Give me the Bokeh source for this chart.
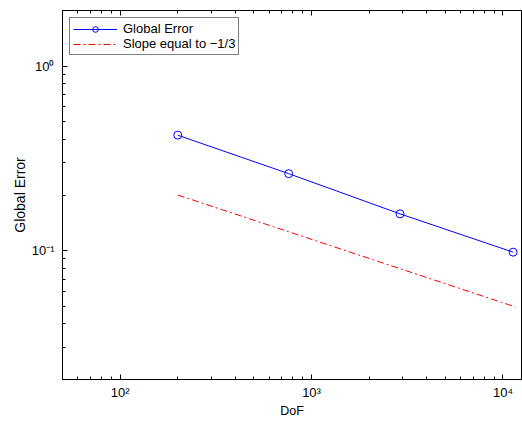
from bokeh.plotting import figure
from bokeh.models import Range1d, FixedTicker, LogAxis, Legend, LegendItem
from bokeh.embed import file_html
from bokeh.resources import INLINE

# data
dof = [200, 760, 2900, 11300]
global_error = [0.422, 0.261, 0.158, 0.098]
slope_x = [200, 11600]
slope_y = [0.2, 0.0495]

x_ticks = [100, 1000, 10000]
x_tick_labels = {100: "10²", 1000: "10³", 10000: "10⁴"}
x_minor = [m * d for d in [10, 100, 1000, 10000] for m in range(2, 10)]
y_ticks = [0.1, 1]
y_tick_labels = {0.1: "10⁻¹", 1: "10⁰"}
y_minor = [round(m * d, 4) for d in [0.01, 0.1, 1] for m in range(2, 10)]

FONT = "Liberation Sans"

p = figure(width=522, height=422, x_axis_type="log", y_axis_type="log",
           x_range=Range1d(50, 12500), y_range=Range1d(0.02, 2),
           output_backend="svg", toolbar_location=None,
           min_border_left=62, min_border_right=1, min_border_top=10, min_border_bottom=43)
p.background_fill_color = "white"
p.border_fill_color = "white"
p.outline_line_color = "black"
p.outline_line_width = 1
p.xgrid.visible = False
p.ygrid.visible = False


def style(ax, labels=True):
    ax.axis_line_color = "black"
    ax.major_tick_in = 5
    ax.major_tick_out = 0
    ax.minor_tick_in = 3
    ax.minor_tick_out = 0
    ax.major_tick_line_color = "black"
    ax.minor_tick_line_color = "black"
    ax.major_label_text_font = FONT
    ax.major_label_text_font_size = "13px" if labels else "0px"
    ax.major_label_text_color = "black"
    ax.axis_label_text_font = FONT
    ax.axis_label_text_font_size = "12.5px"
    ax.axis_label_text_font_style = "normal"
    ax.axis_label_text_color = "black"


xt = FixedTicker(ticks=x_ticks, minor_ticks=x_minor)
yt = FixedTicker(ticks=y_ticks, minor_ticks=y_minor)

p.xaxis.ticker = xt
p.yaxis.ticker = yt
p.xaxis.major_label_overrides = x_tick_labels
p.yaxis.major_label_overrides = y_tick_labels
p.xaxis.axis_label = "DoF"
p.yaxis.axis_label = "Global Error"
p.xaxis.major_label_standoff = 5
p.yaxis.major_label_standoff = 8
p.xaxis.axis_label_standoff = 1
p.yaxis.axis_label_standoff = 1
style(p.xaxis[0])
style(p.yaxis[0])
p.yaxis.axis_label_text_font_size = "14px"

top = LogAxis(ticker=FixedTicker(ticks=x_ticks, minor_ticks=x_minor), major_label_standoff=0)
style(top, labels=False)
top.major_label_overrides = {k: "" for k in x_ticks}
p.add_layout(top, "above")

l1 = p.line(dof, global_error, line_color="#0000ff", line_width=1)
c1 = p.scatter(dof, global_error, marker="circle", size=8, line_color="#0000ff",
               fill_color=None, line_width=1)
l2 = p.line(slope_x, slope_y, line_color="#ff0000", line_width=1, line_dash="7 3 2 3")

legend = Legend(items=[LegendItem(label="Global Error", renderers=[l1, c1]),
                       LegendItem(label="Slope equal to \u22121/3", renderers=[l2])],
                location="top_left")
legend.label_text_font = FONT
legend.label_text_font_size = "13px"
legend.label_text_color = "black"
legend.border_line_color = "black"
legend.border_line_width = 1
legend.background_fill_alpha = 1
legend.margin = 7
legend.padding = 3
legend.spacing = 0
legend.glyph_width = 44
legend.glyph_height = 14
legend.label_height = 14
legend.label_standoff = 6
p.add_layout(legend)

open("out.html", "w").write(file_html(p, INLINE))
